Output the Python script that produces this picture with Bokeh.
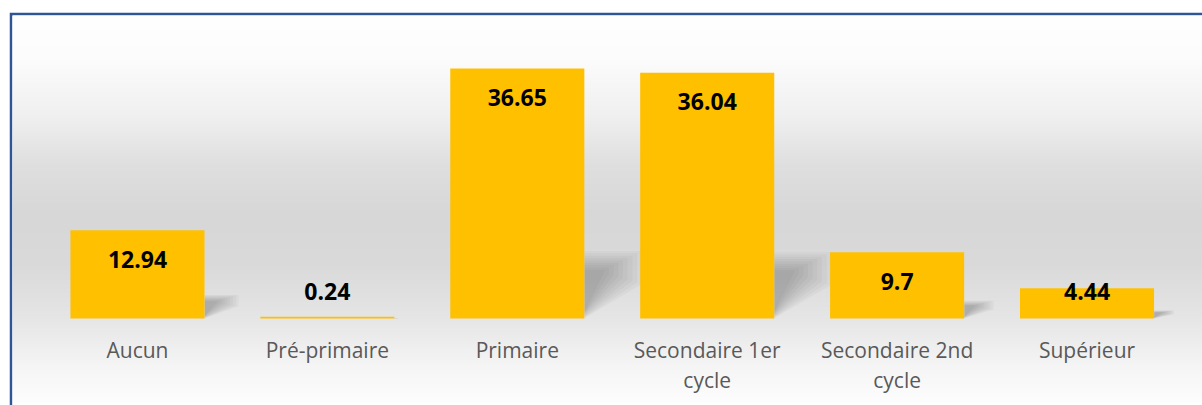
import numpy as np
from bokeh.plotting import figure
from bokeh.models import ColumnDataSource, Range1d
from bokeh.core.properties import value
from bokeh.embed import file_html
from bokeh.resources import INLINE

# ---- data ----
categories = ["Aucun", "Pré-primaire", "Primaire", "Secondaire 1er\ncycle",
              "Secondaire 2nd\ncycle", "Supérieur"]
values = [12.94, 0.24, 36.65, 36.04, 9.7, 4.44]
value_labels = ["12.94", "0.24", "36.65", "36.04", "9.7", "4.44"]

# ---- layout constants ----
FRAME_W, FRAME_H = 1190, 390
X0, X1 = -0.658, 5.608
Y0, Y1 = -12.76, 44.43
PPU = FRAME_H / (Y1 - Y0)          # pixels per data unit (y)
BAR_W = 0.706
BAR_COLOR = "#FFC000"

xs = list(range(len(categories)))

p = figure(width=1193, height=393, x_range=Range1d(X0, X1), y_range=Range1d(Y0, Y1),
           output_backend="svg", toolbar_location=None,
           x_axis_location=None, y_axis_location=None,
           min_border_left=3, min_border_top=3, min_border_right=0, min_border_bottom=0,
           border_fill_color="#2F5597", outline_line_color=None,
           background_fill_color="white")
p.margin = (12, 0, 0, 9)
p.grid.visible = False

# ---- background gradient (wall + floor look) ----
N = FRAME_H
page_y = 405 - (np.arange(N) + 0.5)
stops_y = [15, 60, 115, 165, 215, 265, 315, 365, 405]
stops_g = [255, 252, 240, 223, 215, 218, 229, 245, 254]
gray = np.interp(page_y, stops_y, stops_g).astype(np.uint8)
img = np.empty((N, 1), dtype=np.uint32)
view = img.view(dtype=np.uint8).reshape((N, 1, 4))
view[:, 0, 0] = gray
view[:, 0, 1] = gray
view[:, 0, 2] = gray
view[:, 0, 3] = 255
p.image_rgba(image=[img], x=X0, y=Y0, dw=X1 - X0, dh=Y1 - Y0)

# ---- soft shadows to the right of bars ----
L = 9
for k in range(L):
    t = k / (L - 1)            # 0 = outer (large), 1 = inner (small)
    sx, sy = [], []
    for i, v in zip(xs, values):
        xr = i + BAR_W / 2
        h = 0.25 * v
        w = 0.05 * np.sqrt(v)
        top = h * (1.08 - 0.3 * t)
        wk = w * (1.0 - 0.65 * t)
        sx.append([xr, xr, xr + wk, xr + wk])
        sy.append([h * 0.1 * t, top, top, h * (0.55 + 0.2 * t)])
    p.patches(sx, sy, fill_color="black", fill_alpha=0.026, line_color=None)

# ---- bars ----
src = ColumnDataSource(dict(x=xs, top=values))
p.vbar(x="x", top="top", bottom=0, width=BAR_W, source=src,
       fill_color=BAR_COLOR, line_color=None)

# ---- value labels (inside end, kept above baseline) ----
lbl_y = [max(v - 29 / PPU, 27 / PPU) for v in values]
p.text(x=xs, y=lbl_y, text=value_labels, text_align="center", text_baseline="middle",
       text_font=value("Open Sans"), text_font_style="bold", text_font_size="23px",
       text_color="black")

# ---- category labels ----
cat_y = [-18 / PPU] * len(categories)
p.text(x=xs, y=cat_y, text=categories, text_align="center", text_baseline="top",
       text_font=value("Open Sans"), text_font_size="21px", text_color="#595959",
       text_line_height=1.05)

open("out.html", "w").write(file_html(p, INLINE))
